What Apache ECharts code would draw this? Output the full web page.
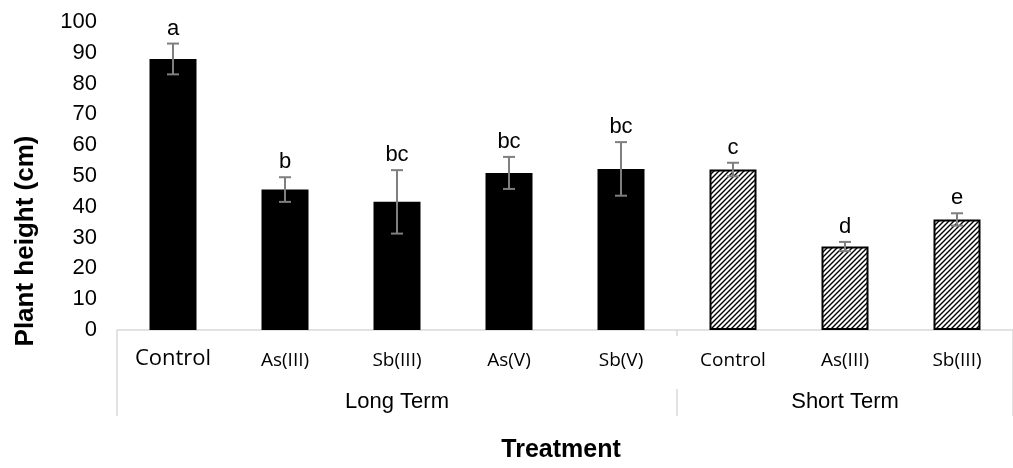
<!DOCTYPE html>
<html>
<head>
<meta charset="utf-8">
<script src="https://cdn.jsdelivr.net/npm/echarts@6/dist/echarts.min.js"></script>
<style>html,body{margin:0;padding:0;background:#fff}#c{width:1013px;height:468px}</style>
</head>
<body>
<div id="c"></div>
<script>
// ---- data ----
const categories = ['Control', 'As(III)', 'Sb(III)', 'As(V)', 'Sb(V)', 'Control', 'As(III)', 'Sb(III)'];
const groupNames = ['Long Term', 'Long Term', 'Long Term', 'Long Term', 'Long Term', 'Short Term', 'Short Term', 'Short Term'];
const means = [88, 45.6, 41.6, 51, 52.3, 52.1, 27.1, 35.9];
const errors = [5, 4, 10.3, 5.2, 8.7, 2.2, 1.5, 2];
const letters = ['a', 'b', 'bc', 'bc', 'bc', 'c', 'd', 'e'];
const yTicks = [0, 10, 20, 30, 40, 50, 60, 70, 80, 90, 100];

// ---- hatch pattern ----
const P = 5;
const pc = document.createElement('canvas');
pc.width = P; pc.height = P;
const g = pc.getContext('2d');
g.fillStyle = '#fff'; g.fillRect(0, 0, P, P);
g.strokeStyle = '#000'; g.lineWidth = 1.4;
g.beginPath();
g.moveTo(-1, P + 1); g.lineTo(P + 1, -1);
g.moveTo(-1, 1); g.lineTo(1, -1);
g.moveTo(P - 1, P + 1); g.lineTo(P + 1, P - 1);
g.stroke();
const hatch = { image: pc, repeat: 'repeat' };

const ARIAL = '"Liberation Sans", Arial, sans-serif';
const LABELF = '"Open Sans", "Noto Sans", sans-serif';

const barData = means.map((v, i) => ({
  value: v,
  itemStyle: groupNames[i] === 'Short Term'
    ? { color: hatch, borderColor: '#000', borderWidth: 2 }
    : { color: '#000' }
}));

const errData = means.map((v, i) => [i, v + errors[i], v - errors[i]]);

const midIndex = {};
groupNames.forEach((gname, i) => { (midIndex[gname] = midIndex[gname] || []).push(i); });
const groupLabelAt = {};
Object.keys(midIndex).forEach(k => { const a = midIndex[k]; groupLabelAt[a[Math.floor(a.length / 2)]] = k; });
const groupStarts = groupNames.map((gname, i) => i === 0 || groupNames[i - 1] !== gname);

const chart = echarts.init(document.getElementById('c'), null, { renderer: 'canvas' });
chart.setOption({
  animation: false,
  backgroundColor: '#fff',
  grid: { left: 117, top: 22, width: 904, height: 314, containLabel: false },
  yAxis: {
    type: 'value', min: yTicks[0], max: yTicks[yTicks.length - 1], interval: 10,
    axisLine: { show: false }, axisTick: { show: false }, splitLine: { show: false },
    axisLabel: { fontSize: 22, color: '#000', fontFamily: ARIAL, margin: 20 },
    name: 'Plant height (cm)', nameLocation: 'middle', nameGap: 78,
    nameTextStyle: { fontSize: 26, fontWeight: 'bold', color: '#000', fontFamily: ARIAL, padding: [0, 130, 0, 0] }
  },
  xAxis: [
    {
      type: 'category', data: categories, position: 'bottom',
      axisLine: { lineStyle: { color: '#d9d9d9', width: 1.5 } },
      axisTick: { show: true, length: 6, lineStyle: { color: '#d9d9d9', width: 1.5 }, interval: (i) => groupStarts[i] === true },
      axisLabel: {
        interval: 0, margin: 17, color: '#000',
        formatter: (v, i) => i === 0 ? '{big|' + v + '}' : '{sm|' + v + '}',
        rich: {
          big: { fontSize: 22, fontFamily: LABELF, color: '#000', lineHeight: 24 },
          sm: { fontSize: 19, fontFamily: LABELF, color: '#000', lineHeight: 24, padding: [4, 0, 0, 0] }
        }
      },
      name: 'Treatment', nameLocation: 'middle', nameGap: 108,
      nameTextStyle: { fontSize: 25, fontWeight: 'bold', color: '#000', fontFamily: ARIAL, padding: [0, 8, 0, 0] }
    },
    {
      type: 'category', data: categories, position: 'bottom', offset: 59,
      axisLine: { show: false },
      axisTick: { show: true, length: 27, lineStyle: { color: '#d9d9d9', width: 1.5 }, interval: (i) => groupStarts[i] === true },
      axisLabel: {
        interval: 0, margin: 1, color: '#000', fontSize: 22, fontFamily: ARIAL, lineHeight: 24,
        formatter: (v, i) => groupLabelAt[i] || ''
      }
    },
    {
      type: 'category', data: categories, position: 'bottom', offset: 6,
      axisLine: { show: false },
      axisTick: { show: true, length: 53, lineStyle: { color: '#d9d9d9', width: 1.5 }, interval: (i) => i === 0 },
      axisLabel: { show: false }
    }
  ],
  series: [
    {
      type: 'bar', xAxisIndex: 0, data: barData, barWidth: 47, silent: true
    },
    {
      type: 'custom', xAxisIndex: 0, data: errData, silent: true, z: 5,
      renderItem: function (params, api) {
        const i = api.value(0);
        const top = api.coord([i, api.value(1)]);
        const bot = api.coord([i, api.value(2)]);
        const x = top[0];
        const cap = 6;
        const ls = { stroke: '#7f7f7f', lineWidth: 2 };
        return {
          type: 'group',
          children: [
            { type: 'line', shape: { x1: x, y1: top[1], x2: x, y2: bot[1] }, style: ls },
            { type: 'line', shape: { x1: x - cap, y1: top[1], x2: x + cap, y2: top[1] }, style: ls },
            { type: 'line', shape: { x1: x - cap, y1: bot[1], x2: x + cap, y2: bot[1] }, style: ls },
            { type: 'text', x: x, y: top[1] - 4,
              style: { text: letters[params.dataIndex], fill: '#000', font: '22px ' + ARIAL, textAlign: 'center', textVerticalAlign: 'bottom' } }
          ]
        };
      }
    }
  ]
});
</script>
</body>
</html>
